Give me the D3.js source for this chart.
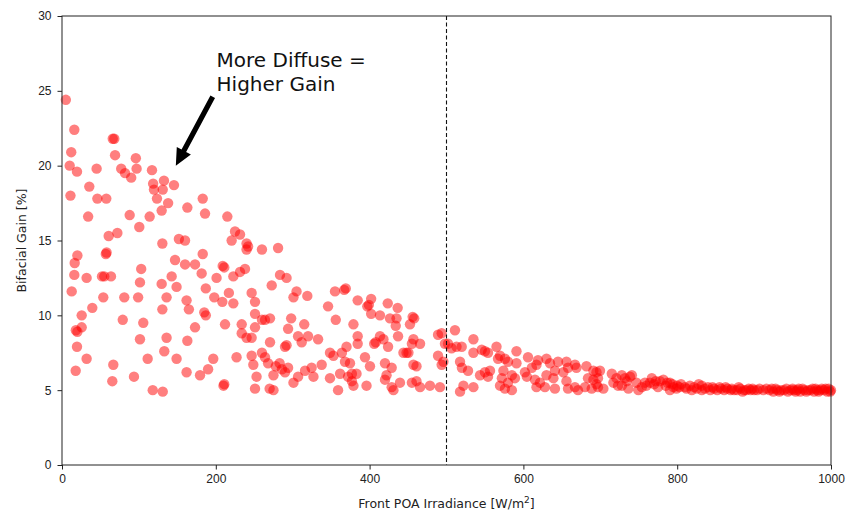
<!DOCTYPE html>
<html>
<head>
<meta charset="utf-8">
<script src="https://cdn.jsdelivr.net/npm/d3@7"></script>
<style>
  body { margin: 0; background: #fff; }
  svg { font-family: "DejaVu Sans", sans-serif; }
  .eje text { font-size: 12px; fill: #222; }
  .eje line { stroke: #222; }
  .titulo { font-size: 12.5px; fill: #222; }
</style>
</head>
<body>
<script>
// datos: irradiancia frontal (W/m2) y ganancia bifacial (%)
var puntos = [
  [5,24.4],[16,22.4],[66,21.8],[68,21.8],[12,20.9],[69,20.7],[96,20.5],[10,20],[19.5,19.6],[45,19.8],
  [77,19.8],[82,19.5],[90,19.2],[97,19.8],[117,19.7],[118.5,18.8],[132.6,19],[119.6,18.4],[131,18.4],[145.6,18.7],
  [123.5,17.8],[138,17.5],[35.5,18.6],[11,18],[46,17.8],[57.6,17.8],[183,17.8],[163,17.2],[186,16.8],[129.6,17],
  [34,16.6],[88,16.7],[114,16.6],[100.5,15.9],[215,16.6],[225,15.6],[231.5,15.4],[220.6,15],[240,14.8],[242,14.6],
  [240,14.4],[60.7,15.3],[72,15.5],[152,15.1],[160,15],[130.5,14.8],[57,14.1],[58,14.2],[20,14],[16.5,13.5],
  [183,14.1],[147,13.7],[160,13.4],[173,13.4],[209,13.3],[211,13.2],[103,13.1],[238,13.1],[231.5,12.9],[16,12.7],
  [32,12.5],[52,12.6],[55,12.6],[63.7,12.6],[142.6,12.6],[181.6,12.8],[201,12.5],[222.8,12.6],
  [12.6,11.6],[53.7,11.2],[81,11.2],[99,11.2],[101.4,12.2],[129.6,12.1],[149,11.9],[136,11.2],[187,11.8],[198,11.2],
  [208.5,10.9],[217,11.5],[222.8,10.8],[246.6,11.5],[251,10.9],[39.4,10.5],[25.6,10],[18,9],[20,8.9],[25.6,9.2],
  [19.5,7.9],[32,7.1],[17.8,6.3],[79,9.7],[105.7,9.5],[130.5,10.4],[162,11],[165,10.4],[185,10.2],[187,10],
  [212,9.4],[233.7,9.4],[233.7,8.8],[240,8.5],[251,10.1],[251,9.2],[246.6,8.5],[101.4,8.4],[136,8.5],[173,9.2],
  [163,8.3],[133,7.6],[111.4,7.1],[149,7.1],[196.7,7.1],[227,7.2],[246.6,7.3],[248.8,6.7],[66.7,6.7],[65.4,5.6],
  [93.6,5.9],[162,6.2],[179.5,6],[190,6.4],[210,5.3],[211,5.4],[118,5],[131,4.9],[251,5.1],
  [260,14.4],[281,14.5],[283.5,12.7],[292,12.5],[272.7,12],[305,11.6],[301,11.2],[319,11.3],[355,11.6],[367,11.7],
  [369,11.8],[384.5,11],[402,11.1],[346,10.6],[397,10.6],[399,10.7],[423.6,10.8],[436.5,10.5],[270.5,9.8],[264,9.7],
  [260,9.7],[402,10.1],[413.5,10],[426.5,9.8],[435,9.8],[456,9.9],[458,9.8],[452.5,9.4],[434,9.3],[356,9.7],
  [298,9.8],[315,9.4],[379,9.4],[294,9.1],[307,8.6],[320,8.6],[333,8.4],[270.5,8.2],[290,7.9],[292,8],
  [311.7,8.2],[370,7.9],[384.5,8.6],[384.5,8.1],[406,8.1],[408,8.2],[424,7.9],[413.5,8.6],[418,8.4],[437,8.6],
  [457,8.4],[455,8.1],[465.6,8.1],[448,7.5],[260,7.5],[264,7.2],[278,6.6],[283,6.8],[286,6.4],[290,6.2],
  [294,6.5],[268,6.8],[275,6],[253,5.9],[270,5.1],[275,5],[301,5.5],[307,5.9],[316,6.3],[324.6,6.5],
  [327,5.9],[337.7,6.7],[348.5,5.8],[361.6,6.1],[359,5],[348.5,7.5],[353,7.3],[364,7.5],[374.5,6.8],[368,6.9],
  [372,5.9],[377,5.6],[379,5.3],[377,6.1],[383,6.1],[396,5.3],[394,7.2],[400.5,6.6],[420,6.8],[428.7,6.5],
  [422,6],[420,5.7],[428.7,5.2],[431,5],[439.5,5.5],[444,7.5],[450.5,7.5],[457,6.7],[461,6.6],[455,5.5],
  [461,5.6],[465.6,5.2],[478.5,5.3],[489,8.7],[493.7,8.8],[489,7.3],[493.7,6.7],[491.5,5.2],[498,8.1],
  [511,9],[502,8.1],[506.6,7.8],[513,7.9],[519.8,7.9],[496,6.9],[517.6,6.9],[520,6.5],[528,6.3],[522,5.3],
  [517.6,4.9],[535,5.2],[535,8.4],[535,7.5],[545.8,7.7],[550,7.6],[554,7.5],[543.6,6],[550,6.2],[556.6,6.3],
  [554,5.9],[565,7.9],[569.6,7.3],[567,7.1],[576,7.1],[591,7.6],[580,6.9],[591,6.8],[574,6.3],[585,6],
  [589,5.8],[572,5.8],[569.6,5.3],[576,5.1],[585,5],[580,5.5],[606,7.2],[602,6.2],[611,6.5],[604.5,5.9],
  [619,7],[617,6.7],[615,5.7],[617,5.2],[621.6,5.5],[630,7.1],[634.6,6.8],[645,6.9],[630,6],[639,5.8],
  [641,6.3],[628,5.2],[641,5.1],[656,6.9],[658,6.5],[667,6.7],[669,6.5],[652,6.2],[656,5.6],[658,5.1],
  [667,5.2],[671,5],[680,5.2],[682,6.6],[691,6.3],[695,6.2],[699.6,6.3],[684,5.8],[691,5.7],[697,5.8],
  [695,5.4],[688.8,5.1],[697,5.2],[704,5.1],[715,6.1],[721,5.8],[717,5.5],[723,5.3],[728,6],[732,5.8],
  [734.4,5.6],[738.6,5.9],[728,5.3],[736.5,5.1],[747,5.5],[749.5,5],
  [741,6],[754,5.2],[758,5.5],[767,5.8],[764.6,5.5],[777.6,5.6],[782,5.7],[775,5.2],[790.6,5.5],[795,5.2],
  [790.6,5],[799,5.1],[816.6,5.3],[819,5],[825.6,5.1],[832,5.3],[832,5],[760,5.3],[770,5.4],[785,5.3],
  [800,5.3],[805,5.4],[810,5.2],[840,5.2],[843,5],[848,5.1],[852,5],[857,5.1],[861,5],[865,5.1],
  [869.5,5],[874,5],[878,5],[882,5.1],[887,5],[890,5],[895.5,5],[900,5],[904,5],[912,5],
  [920,5],[925,4.9],[930,5],[935,5],[939,5],[944,4.9],[947.5,5],[952,5],[956,5],[960,4.9],
  [965,5],[970,5],[973.5,5],[978,4.9],[982,5],[986,5],[991,5],[995,4.9],[1000,5],
  [812,5.1],[822,5.2],[828,5.4],[836,5.1],[846,5.2],[855,5.2],[863,5.2],[871,5.1],[880,5.2],[885,4.9],
  [893,5.1],[898,5.1],[907,5.1],[916,5.1],[923,5.1],[928,5.1],[933,4.9],[942,5.1],[950,5.1],[954,4.9],
  [958,5.1],[963,5.1],[968,4.9],[976,5.1],[980,5.1],[984,4.9],[988,5.1],[993,5.1],[997,5.1],[999,4.9],
  [772,5.6],[787,5.5],[794,5.4],[803,5.2]
];

var ticksX = [0, 200, 400, 600, 800, 1000];
var ticksY = [0, 5, 10, 15, 20, 25, 30];
var lineaVertical = 500;
var textoAnotacion = ["More Diffuse =", "Higher Gain"];
var puntaFlecha = [148, 20];      // donde apunta la flecha (datos)
var colaFlecha = [196, 24.6];     // inicio de la flecha (datos)
var posTexto = [201, 26.6];       // linea base del texto (datos)

var anchoSvg = 847,
    altoSvg = 514,
    margen = {sup: 16, dcho: 16, izq: 62, inf: 49};

var escalaX = d3.scaleLinear()
    .domain([0, 1000])
    .range([margen.izq, anchoSvg - margen.dcho]);

var escalaY = d3.scaleLinear()
    .domain([0, 30])
    .range([altoSvg - margen.inf, margen.sup]);

var svg = d3.select('body')
    .append('svg')
    .attr('width', anchoSvg)
    .attr('height', altoSvg);

// puntos
svg.append('g')
    .selectAll('circle')
    .data(puntos)
    .enter()
    .append('circle')
    .attr('cx', d => escalaX(d[0]))
    .attr('cy', d => escalaY(d[1]))
    .attr('r', 5.2)
    .attr('fill', 'red')
    .attr('fill-opacity', 0.5);

// linea discontinua
svg.append('line')
    .attr('x1', escalaX(lineaVertical))
    .attr('x2', escalaX(lineaVertical))
    .attr('y1', escalaY(30))
    .attr('y2', escalaY(0))
    .attr('stroke', '#111')
    .attr('stroke-width', 1.1)
    .attr('stroke-dasharray', '4,2.5');

// ejes
var ejeX = d3.axisBottom(escalaX)
    .tickValues(ticksX)
    .tickFormat(d3.format('d'))
    .tickSize(4.5)
    .tickSizeOuter(0)
    .tickPadding(5);
svg.append('g')
    .attr('class', 'eje')
    .attr('transform', 'translate(0,' + escalaY(0) + ')')
    .call(ejeX)
    .call(g => g.select('.domain').remove());

var ejeY = d3.axisLeft(escalaY)
    .tickValues(ticksY)
    .tickFormat(d3.format('d'))
    .tickSize(4.5)
    .tickSizeOuter(0)
    .tickPadding(6);
svg.append('g')
    .attr('class', 'eje')
    .attr('transform', 'translate(' + escalaX(0) + ',0)')
    .call(ejeY)
    .call(g => g.select('.domain').remove());

// marco
svg.append('rect')
    .attr('x', escalaX(0))
    .attr('y', escalaY(30))
    .attr('width', escalaX(1000) - escalaX(0))
    .attr('height', escalaY(0) - escalaY(30))
    .attr('fill', 'none')
    .attr('stroke', '#222')
    .attr('stroke-width', 1);

// titulos de los ejes
var tx = svg.append('text')
    .attr('class', 'titulo')
    .attr('text-anchor', 'middle')
    .attr('x', (escalaX(0) + escalaX(1000)) / 2)
    .attr('y', 508);
tx.append('tspan').text('Front POA Irradiance [W/m');
tx.append('tspan').attr('dy', -5).style('font-size', '9px').text('2');
tx.append('tspan').attr('dy', 5).text(']');

svg.append('text')
    .attr('class', 'titulo')
    .attr('text-anchor', 'middle')
    .attr('transform', 'translate(26,' + ((escalaY(0) + escalaY(30)) / 2) + ') rotate(-90)')
    .text('Bifacial Gain [%]');

// anotacion con flecha
svg.append('g')
    .selectAll('text')
    .data(textoAnotacion)
    .enter()
    .append('text')
    .attr('x', escalaX(posTexto[0]))
    .attr('y', (d, i) => escalaY(posTexto[1]) + i * 24)
    .style('font-size', '20px')
    .attr('fill', '#111')
    .text(d => d);

var x0 = escalaX(colaFlecha[0]), y0 = escalaY(colaFlecha[1]),
    x1 = escalaX(puntaFlecha[0]), y1 = escalaY(puntaFlecha[1]);
var dx = x1 - x0, dy = y1 - y0, largo = Math.sqrt(dx * dx + dy * dy);
var ux = dx / largo, uy = dy / largo, nx = -uy, ny = ux;
var ancho = 2.6, anchoCabeza = 8, largoCabeza = 17;
var bx = x1 - ux * largoCabeza, by = y1 - uy * largoCabeza;
var flecha = [
    [x0 + nx * ancho, y0 + ny * ancho],
    [bx + nx * ancho, by + ny * ancho],
    [bx + nx * anchoCabeza, by + ny * anchoCabeza],
    [x1, y1],
    [bx - nx * anchoCabeza, by - ny * anchoCabeza],
    [bx - nx * ancho, by - ny * ancho],
    [x0 - nx * ancho, y0 - ny * ancho]
];
svg.append('polygon')
    .attr('points', flecha.map(p => p.join(',')).join(' '))
    .attr('fill', '#000');
</script>
</body>
</html>
